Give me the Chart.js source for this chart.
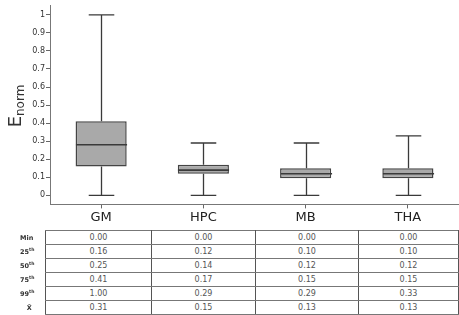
<!DOCTYPE html>
<html>
<head>
<meta charset="utf-8">
<script src="https://cdn.jsdelivr.net/npm/chart.js@4"></script>
<style>
  body { margin: 0; background: #fff; }
  #wrap { position: relative; width: 459px; height: 315px; overflow: hidden; font-family: "DejaVu Sans", Verdana, sans-serif; }
  #boxChart { position: absolute; left: 0; top: 0; }
  #ytitle { position: absolute; left: 15px; top: 106px; transform: translate(-50%, -50%) rotate(-90deg); font-size: 18px; color: #333; white-space: nowrap; }
  #ytitle sub { font-size: 12px; vertical-align: -3px; }
  #stats { position: absolute; left: 20px; top: 230px; border-collapse: collapse; table-layout: fixed; font-size: 8px; color: #555; }
  #stats tr { height: 14px; }
  #stats td { height: 13px; padding: 0; text-align: center; line-height: 12px; overflow: hidden; white-space: nowrap; }
  #stats td.val { border: 1px solid #555; border-top-color: #777; border-bottom-color: #777; }
  #stats td.lab { width: 25px; font-weight: bold; font-size: 6.5px; color: #333; text-align: left; }
  #stats td.lab sup { font-size: 4.5px; line-height: 0; vertical-align: 3px; }
</style>
</head>
<body>
<div id="wrap">
  <canvas id="boxChart" width="459" height="226"></canvas>
  <div id="ytitle">E<sub>norm</sub></div>
  <table id="stats"></table>
</div>
<script>
const categories = ["GM", "HPC", "MB", "THA"];
const whiskerLow = [0, 0, 0, 0];
const q1 = [0.16, 0.12, 0.095, 0.095];
const median = [0.28, 0.14, 0.12, 0.12];
const q3 = [0.41, 0.17, 0.15, 0.15];
const whiskerHigh = [1.0, 0.29, 0.29, 0.33];
const yTicks = [0, 0.1, 0.2, 0.3, 0.4, 0.5, 0.6, 0.7, 0.8, 0.9, 1];

// table under the plot
const rowLabels = ["Min", "25<sup>th</sup>", "50<sup>th</sup>", "75<sup>th</sup>", "99<sup>th</sup>", "&nbsp;&nbsp;&nbsp;X&#772;"];
const minRow = ["0.00", "0.00", "0.00", "0.00"];
const p25Row = ["0.16", "0.12", "0.10", "0.10"];
const p50Row = ["0.25", "0.14", "0.12", "0.12"];
const p75Row = ["0.41", "0.17", "0.15", "0.15"];
const p99Row = ["1.00", "0.29", "0.29", "0.33"];
const meanRow = ["0.31", "0.15", "0.13", "0.13"];
const colWidths = [105, 103, 102, 99];

const rows = [minRow, p25Row, p50Row, p75Row, p99Row, meanRow];
let html = "<colgroup><col style='width:25px'>" + colWidths.map(w => "<col style='width:" + (w + 1) + "px'>").join("") + "</colgroup>";
rows.forEach((r, i) => {
  html += "<tr><td class='lab'>" + rowLabels[i] + "</td>";
  r.forEach(v => { html += "<td class='val'>" + v + "</td>"; });
  html += "</tr>";
});
document.getElementById("stats").innerHTML = html;

// whiskers, caps and median drawn through the scales
const boxExtras = {
  id: "boxExtras",
  afterDatasetsDraw(chart) {
    const { ctx, scales: { x, y } } = chart;
    const band = x.getPixelForValue(1) - x.getPixelForValue(0);
    const capHalf = band * 0.125;
    const boxHalf = band * 0.25;
    ctx.save();
    ctx.strokeStyle = "#3a3a3a";
    categories.forEach((c, i) => {
      const cx = Math.round(x.getPixelForValue(i)) + 0.5;
      const yl = y.getPixelForValue(whiskerLow[i]);
      const yq1 = y.getPixelForValue(q1[i]);
      const yq3 = y.getPixelForValue(q3[i]);
      const yh = y.getPixelForValue(whiskerHigh[i]);
      const ym = y.getPixelForValue(median[i]);
      ctx.lineWidth = 1.3;
      ctx.beginPath();
      ctx.moveTo(cx, yq3); ctx.lineTo(cx, yh);
      ctx.moveTo(cx, yq1); ctx.lineTo(cx, yl);
      ctx.moveTo(cx - capHalf, yh); ctx.lineTo(cx + capHalf, yh);
      ctx.moveTo(cx - capHalf, yl); ctx.lineTo(cx + capHalf, yl);
      ctx.stroke();
      ctx.lineWidth = 1.6;
      ctx.beginPath();
      ctx.moveTo(cx - boxHalf, ym); ctx.lineTo(cx + boxHalf, ym);
      ctx.stroke();
    });
    ctx.restore();
  }
};

new Chart(document.getElementById("boxChart"), {
  type: "bar",
  data: {
    labels: categories,
    datasets: [{
      data: categories.map((c, i) => [q1[i], q3[i]]),
      backgroundColor: "#a9a9a9",
      borderColor: "#444",
      borderWidth: 1.5,
      borderSkipped: false,
      barPercentage: 0.5,
      categoryPercentage: 1
    }]
  },
  options: {
    responsive: false,
    animation: false,
    layout: { padding: { top: 3, right: 0, left: 0, bottom: 0 } },
    plugins: { legend: { display: false }, tooltip: { enabled: false } },
    scales: {
      x: {
        grid: { drawOnChartArea: false, offset: false, tickLength: 4, color: "#666" },
        border: { color: "#777", width: 1 },
        ticks: { color: "#222", font: { family: "DejaVu Sans", size: 13 }, padding: 1 }
      },
      y: {
        min: -0.05,
        max: 1.05,
        afterBuildTicks: s => { s.ticks = yTicks.map(v => ({ value: v })); },
        afterFit: s => { s.width = 50; },
        grid: { drawOnChartArea: false, tickLength: 4, color: "#666" },
        border: { color: "#777", width: 1 },
        ticks: { color: "#333", font: { family: "DejaVu Sans", size: 8 }, padding: 1, callback: v => String(v) }
      }
    }
  },
  plugins: [boxExtras]
});
</script>
</body>
</html>
